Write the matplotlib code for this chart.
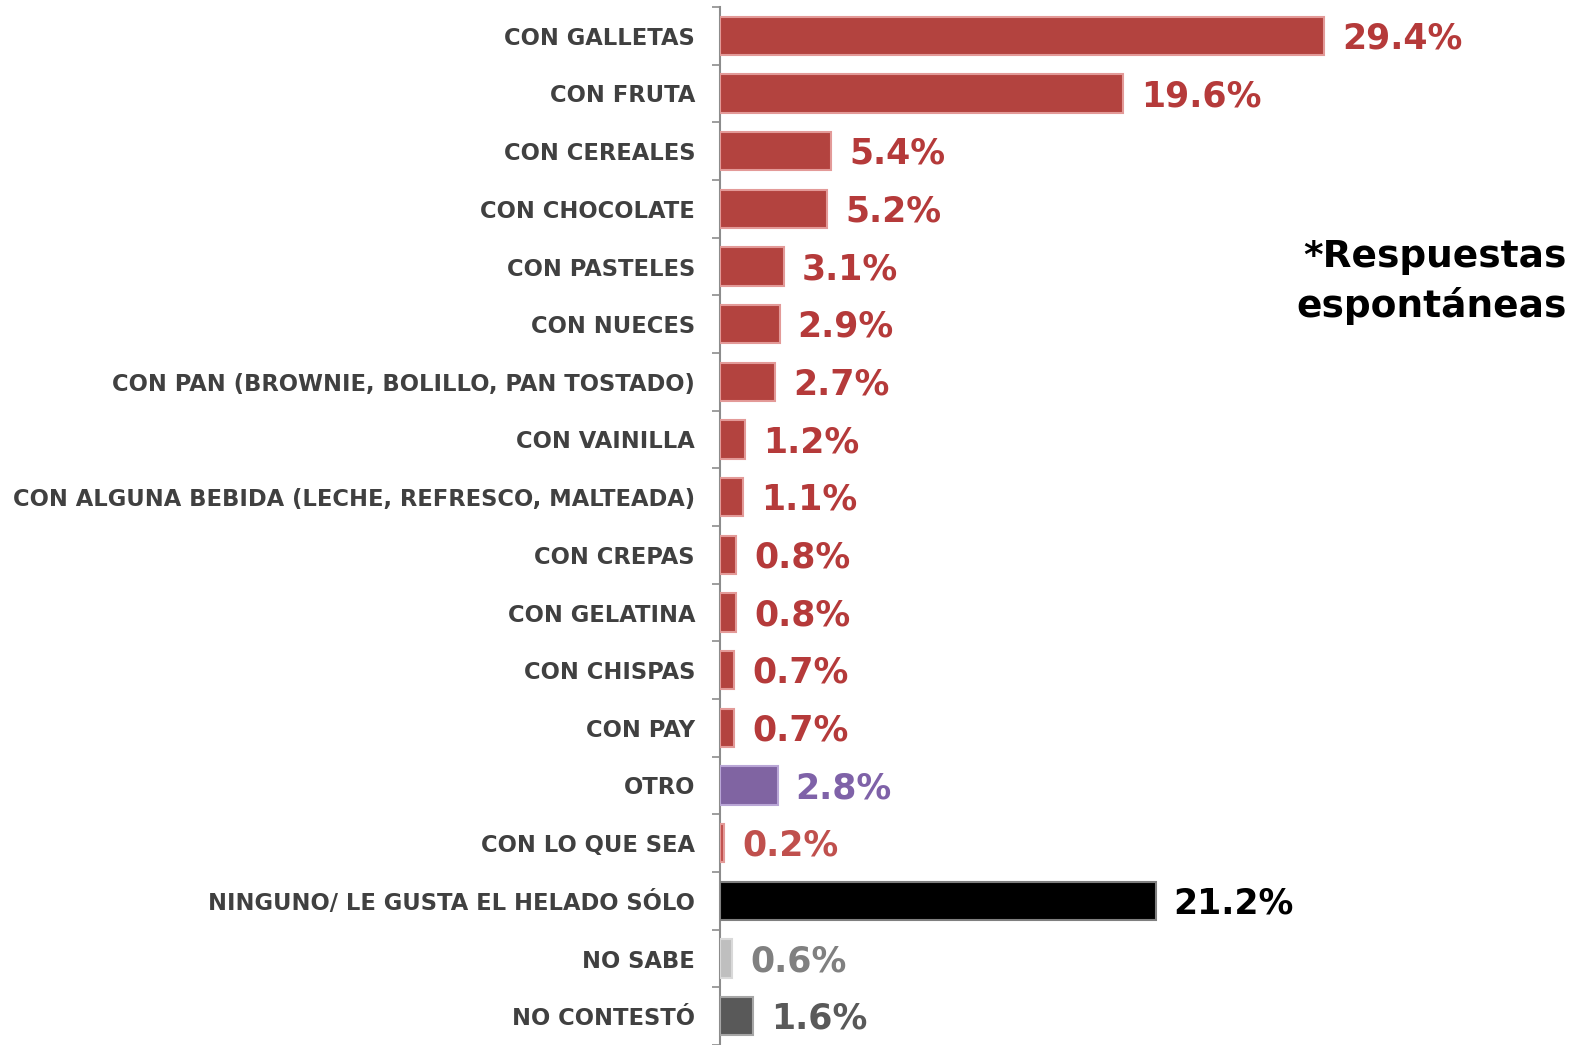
import matplotlib
matplotlib.use("Agg")
import matplotlib.pyplot as plt

categories = [
    "CON GALLETAS", "CON FRUTA", "CON CEREALES", "CON CHOCOLATE", "CON PASTELES",
    "CON NUECES", "CON PAN (BROWNIE, BOLILLO, PAN TOSTADO)", "CON VAINILLA",
    "CON ALGUNA BEBIDA (LECHE, REFRESCO, MALTEADA)", "CON CREPAS", "CON GELATINA",
    "CON CHISPAS", "CON PAY", "OTRO", "CON LO QUE SEA",
    "NINGUNO/ LE GUSTA EL HELADO SÓLO", "NO SABE", "NO CONTESTÓ",
]
values = [29.4, 19.6, 5.4, 5.2, 3.1, 2.9, 2.7, 1.2, 1.1, 0.8, 0.8, 0.7, 0.7, 2.8, 0.2, 21.2, 0.6, 1.6]
value_labels = ["29.4%", "19.6%", "5.4%", "5.2%", "3.1%", "2.9%", "2.7%", "1.2%", "1.1%",
                "0.8%", "0.8%", "0.7%", "0.7%", "2.8%", "0.2%", "21.2%", "0.6%", "1.6%"]

RED = "#B3433F"
bar_colors = [RED] * 13 + ["#8064A2", "#C0504D", "#000000", "#BFBFBF", "#595959"]
edge_colors = ["#E39A98"] * 13 + ["#B9A6D6", "#E39A98", "#7F7F7F", "#D9D9D9", "#A6A6A6"]
text_colors = ["#B53A3A"] * 13 + ["#7F62A8", "#C0504D", "#000000", "#808080", "#595959"]

W, H = 1587, 1045
fig = plt.figure(figsize=(W / 100, H / 100), dpi=100)
fig.patch.set_facecolor("white")

ax = fig.add_axes([720 / W, 0, 1 - 720 / W, 1 - 7 / H])
ax.set_facecolor("none")
y = list(range(len(categories)))
ax.barh(y, values, height=0.66, color=bar_colors, edgecolor=edge_colors, linewidth=1.5, zorder=3)

ax.set_ylim(17.41, -0.5)
ax.set_xlim(0, 867 / (604 / 29.4))

for yi, v, lab, c in zip(y, values, value_labels, text_colors):
    ax.annotate(lab, (v, yi), xytext=(13, -2), textcoords="offset points",
                ha="left", va="center", fontsize=25, fontweight="bold", color=c,
                family="DejaVu Sans", zorder=4)

ax.set_yticks(y)
ax.set_yticklabels(categories, fontsize=16.3, fontweight="bold", color="#404040", family="DejaVu Sans")
ax.tick_params(axis="y", which="major", length=0, pad=18)
ax.set_yticks([i + 0.5 for i in range(-1, len(categories))], minor=True)
ax.tick_params(axis="y", which="minor", length=6, color="#8C8C8C", width=1.2)
ax.set_xticks([])
for s in ["top", "right", "bottom"]:
    ax.spines[s].set_visible(False)
ax.spines["left"].set_color("#8C8C8C")
ax.spines["left"].set_linewidth(1.5)

fig.text(1567 / W, 1 - 257 / H, "*Respuestas", fontsize=27, fontweight="bold", color="black",
         ha="right", va="center", family="DejaVu Sans")
fig.text(1567 / W, 1 - 306 / H, "espontáneas", fontsize=27, fontweight="bold", color="black",
         ha="right", va="center", family="DejaVu Sans")

fig.savefig("out.png", dpi=100, facecolor="white")
